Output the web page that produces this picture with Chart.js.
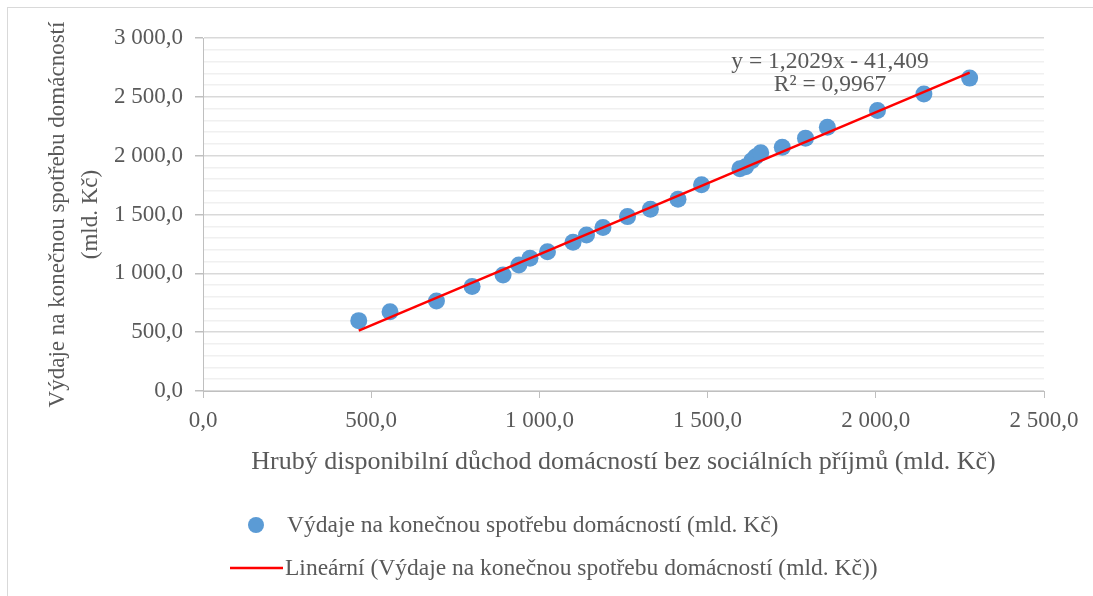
<!DOCTYPE html>
<html>
<head>
<meta charset="utf-8">
<script src="https://cdn.jsdelivr.net/npm/chart.js@4"></script>
<style>
  body { margin: 0; background: #fff; }
  #frame { position: absolute; left: 7px; top: 7px; width: 1086px; height: 589px;
           border-left: 1px solid #d9d9d9; border-top: 1px solid #d9d9d9; }
  #chart { position: absolute; left: 0; top: 0; }
</style>
</head>
<body>
<div id="frame"></div>
<canvas id="chart" width="1093" height="596"></canvas>
<script>
// Hrubý disponibilní důchod bez sociálních příjmů (x) a výdaje na konečnou spotřebu (y), mld. Kč
const duchod = [463, 556, 694, 800, 892, 939, 972, 1024, 1100, 1140, 1189, 1262, 1330,
                1412, 1482, 1596, 1613, 1631, 1643, 1658, 1722, 1791, 1856, 2005, 2143, 2279];
const vydaje = [598, 674, 765, 888, 986, 1071, 1128, 1184, 1264, 1326, 1389, 1482, 1545,
                1630, 1752, 1888, 1905, 1956, 1990, 2024, 2072, 2149, 2242, 2383, 2525, 2659];

// koncové body lineárního trendu
const trendX = [463, 2279];
const trendY = [513, 2705];

const rovnice = ['y = 1,2029x - 41,409', 'R² = 0,9967'];
const nazevBodu = 'Výdaje na konečnou spotřebu domácností (mld. Kč)';
const nazevTrendu = 'Lineární (Výdaje na konečnou spotřebu domácností (mld. Kč))';
const osaX = 'Hrubý disponibilní důchod domácností bez sociálních příjmů (mld. Kč)';
const osaY = ['Výdaje na konečnou spotřebu domácností', '(mld. Kč)'];

const textColor = '#595959';
const fontFam = '"Liberation Serif", "Times New Roman", serif';

// formát "2 500,0"
function fmt(v) {
    const s = v.toFixed(1).split('.');
    return s[0].replace(/\B(?=(\d{3})+(?!\d))/g, ' ') + ',' + s[1];
}

const points = duchod.map((x, i) => ({ x: x, y: vydaje[i] }));
const trend = trendX.map((x, i) => ({ x: x, y: trendY[i] }));

// rovnice trendu + vlastní legenda (Excel styl)
const extras = {
    id: 'extras',
    afterDraw(chart) {
        const ctx = chart.ctx;
        const a = chart.chartArea;
        ctx.save();
        ctx.fillStyle = textColor;
        ctx.font = '23.5px ' + fontFam;
        ctx.textAlign = 'center';
        ctx.textBaseline = 'middle';
        ctx.fillText(rovnice[0], a.left + 627, a.top + 24);
        ctx.fillText(rovnice[1], a.left + 627, a.top + 47);

        // legenda
        const ds0 = chart.data.datasets[0];
        const ds1 = chart.data.datasets[1];
        ctx.textAlign = 'left';
        ctx.beginPath();
        ctx.arc(256, 525, 8, 0, Math.PI * 2);
        ctx.fillStyle = ds0.backgroundColor;
        ctx.fill();
        ctx.fillStyle = textColor;
        ctx.fillText(ds0.label, 287, 526);

        ctx.beginPath();
        ctx.moveTo(230, 568);
        ctx.lineTo(283, 568);
        ctx.strokeStyle = ds1.borderColor;
        ctx.lineWidth = ds1.borderWidth;
        ctx.stroke();
        ctx.fillText(ds1.label, 285, 569);
        ctx.restore();
    }
};

new Chart(document.getElementById('chart'), {
    type: 'scatter',
    data: {
        datasets: [{
            label: nazevBodu,
            data: points,
            backgroundColor: '#5b9bd5',
            borderWidth: 0,
            pointRadius: 8.5,
            order: 2
        }, {
            label: nazevTrendu,
            type: 'line',
            data: trend,
            borderColor: '#ff0000',
            borderWidth: 2.5,
            pointRadius: 0,
            fill: false,
            order: 1
        }]
    },
    options: {
        responsive: false,
        animation: false,
        layout: { padding: { left: 0, right: 49, top: 38, bottom: 115 } },
        plugins: {
            legend: { display: false },
            tooltip: { enabled: false }
        },
        scales: {
            x: {
                type: 'linear',
                min: 0,
                max: 2500,
                afterFit: s => { s.height = 90; },
                ticks: {
                    stepSize: 500,
                    padding: 9,
                    color: textColor,
                    font: { family: fontFam, size: 23 },
                    callback: v => fmt(v)
                },
                grid: {
                    drawOnChartArea: false,
                    tickLength: 7,
                    color: '#bfbfbf'
                },
                border: { color: '#bfbfbf', width: 1 },
                title: {
                    display: true,
                    text: osaX,
                    color: textColor,
                    font: { family: fontFam, size: 26 },
                    padding: { top: 0, bottom: 3 }
                }
            },
            y: {
                min: 0,
                max: 3000,
                afterFit: s => { s.width = 203; },
                ticks: {
                    stepSize: 100,
                    autoSkip: false,
                    padding: 12,
                    color: textColor,
                    font: { family: fontFam, size: 23 },
                    callback: v => (v % 500 === 0 ? fmt(v) : '')
                },
                grid: {
                    tickLength: 8,
                    color: c => (c.tick && c.tick.value % 500 === 0 ? '#d9d9d9' : '#f0f0f0'),
                    tickColor: c => (c.tick && c.tick.value % 500 === 0 ? '#bfbfbf' : 'rgba(0,0,0,0)'),
                    lineWidth: 1.5
                },
                border: { color: '#bfbfbf', width: 1 },
                title: {
                    display: true,
                    text: osaY,
                    color: textColor,
                    font: { family: fontFam, size: 23, lineHeight: 1.45 },
                    padding: { top: 41, bottom: 0 }
                }
            }
        }
    },
    plugins: [extras]
});
</script>
</body>
</html>
